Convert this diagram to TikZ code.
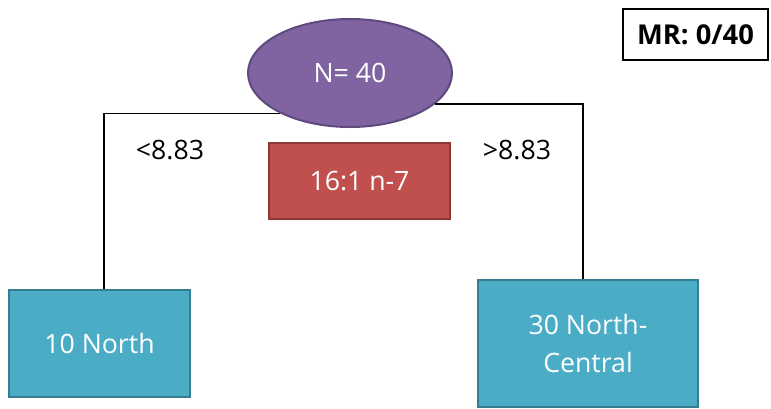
\documentclass[tikz,border=0pt]{standalone}
\usepackage{fontspec}
\setmainfont{Open Sans}
\usetikzlibrary{shapes.geometric}

\definecolor{rootfill}{HTML}{8064A2}
\definecolor{rootline}{HTML}{5E4A7C}
\definecolor{rulefill}{HTML}{C0504D}
\definecolor{ruleline}{HTML}{8C3836}
\definecolor{leaffill}{HTML}{4BACC6}
\definecolor{leafline}{HTML}{357D91}

\tikzset{
  rootnode/.style={ellipse, draw=rootline, fill=rootfill, line width=1.5pt, text=white,
    minimum width=153pt, minimum height=81pt, inner sep=0pt, font=\fontsize{20}{24}\selectfont},
  rulenode/.style={rectangle, draw=ruleline, fill=rulefill, line width=1.5pt, text=white,
    minimum width=135.75pt, minimum height=57pt, inner sep=0pt, font=\fontsize{20}{24}\selectfont},
  leafnode/.style={rectangle, draw=leafline, fill=leaffill, line width=1.8pt, text=white,
    inner sep=0pt, align=center, font=\fontsize{20}{28}\selectfont},
  splitlabel/.style={inner sep=0.75pt, font=\fontsize{20}{24}\selectfont},
  branch/.style={line width=1.3pt, draw=black}
}

\begin{document}
\begin{tikzpicture}[x=0.75pt,y=0.75pt,yscale=-1,xscale=1]
    \useasboundingbox (0,0) rectangle (771,408);

    % Root Ellipse
    \node [rootnode] (root) at (350,73) {N= 40};
    % Rule Box
    \node [rulenode] (rule) at (359.5,181) {16:1 n-7};
    % Leaf Boxes
    \node [leafnode, minimum width=135.75pt, minimum height=80.25pt] (north) at (99.5,343.5) {10 North};
    \node [leafnode, minimum width=165pt, minimum height=95.25pt] (central) at (588,343.5) {30 North-\\Central};
    % Misclassification Box
    \node [draw=black, line width=1.3pt, minimum width=108.75pt, minimum height=38.25pt, inner sep=0pt,
      font=\bfseries\fontsize{20.5}{24}\selectfont] (mr) at (695.5,34.5) {MR: 0/40};

    % Branches
    \draw [branch] (root.210) -| ([xshift=3.4pt]north.north);
    \draw [branch] (root.340) -| ([xshift=-3.7pt]central.north);

    % Text Node
    \node [splitlabel] (left) at (170,150) {<8.83};
    % Text Node
    \node [splitlabel] (right) at (517,150) {>8.83};

\end{tikzpicture}
\end{document}
